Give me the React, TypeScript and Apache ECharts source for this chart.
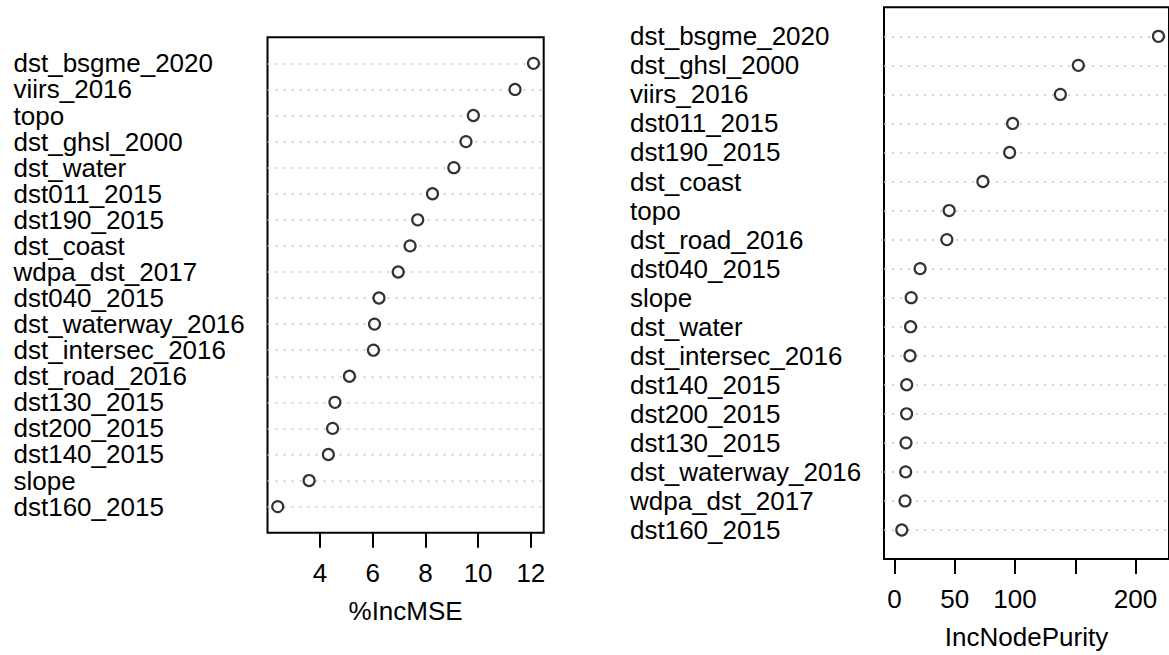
import React, { useEffect, useRef } from "react";
import * as echarts from "echarts";

// Left panel: %IncMSE (top to bottom)
const leftNames = [
  "dst_bsgme_2020", "viirs_2016", "topo", "dst_ghsl_2000", "dst_water",
  "dst011_2015", "dst190_2015", "dst_coast", "wdpa_dst_2017", "dst040_2015",
  "dst_waterway_2016", "dst_intersec_2016", "dst_road_2016", "dst130_2015",
  "dst200_2015", "dst140_2015", "slope", "dst160_2015",
];
const leftValues = [
  12.10, 11.40, 9.82, 9.54, 9.08, 8.27, 7.71, 7.42, 6.97, 6.24,
  6.07, 6.03, 5.12, 4.57, 4.48, 4.32, 3.59, 2.40,
];
const leftTickValues = [4, 6, 8, 10, 12];
const leftLabelValues = [4, 6, 8, 10, 12];
const leftAxisName = "%IncMSE";

// Right panel: IncNodePurity (top to bottom)
const rightNames = [
  "dst_bsgme_2020", "dst_ghsl_2000", "viirs_2016", "dst011_2015", "dst190_2015",
  "dst_coast", "topo", "dst_road_2016", "dst040_2015", "slope", "dst_water",
  "dst_intersec_2016", "dst140_2015", "dst200_2015", "dst130_2015",
  "dst_waterway_2016", "wdpa_dst_2017", "dst160_2015",
];
const rightValues = [
  219.0, 152.5, 137.6, 98.0, 95.5, 73.3, 45.3, 43.4, 21.2, 13.8, 13.3,
  12.8, 10.1, 10.0, 9.5, 9.2, 8.7, 6.0,
];
const rightTickValues = [0, 50, 100, 150, 200];
const rightLabelValues = [0, 50, 100, 200];
const rightAxisName = "IncNodePurity";

const FONT = "'Liberation Sans', Arial, Helvetica, sans-serif";

export default function App() {
  const ref = useRef<HTMLDivElement>(null);

  useEffect(() => {
    document.body.style.margin = "0";
    document.body.style.overflow = "hidden";
    if (!ref.current) return;
    const chart = echarts.init(ref.current, undefined, { renderer: "svg" });

    const n = leftNames.length;
    const lMin = Math.min(...leftValues);
    const lMax = Math.max(...leftValues);
    const lPad = 0.04 * (lMax - lMin);
    const rMax = Math.max(...rightValues);
    const rPad = 0.04 * rMax;

    const yAxisFor = (names: string[], gridIndex: number) => ({
      type: "value",
      gridIndex,
      min: 0,
      max: names.length + 1,
      interval: 1,
      axisLine: { show: false },
      axisTick: { show: false },
      axisLabel: {
        align: "left",
        margin: 254,
        fontSize: 26,
        lineHeight: 21,
        fontFamily: FONT,
        color: "#000",
        padding: [3, 0, 0, 0],
        showMinLabel: false,
        showMaxLabel: false,
        formatter: (v: number) => {
          const i = names.length - v;
          return i >= 0 && i < names.length && v > 0 ? names[i] : "";
        },
      },
      splitLine: {
        show: true,
        showMinLine: false,
        showMaxLine: false,
        lineStyle: { color: "#c4c4c4", type: [2, 6], width: 1.5 },
      },
    });

    const xAxisFor = (
      gridIndex: number,
      min: number,
      max: number,
      ticks: number[],
      labels: number[],
      name: string
    ) => ({
      type: "value",
      gridIndex,
      min,
      max,
      name,
      nameLocation: "middle",
      nameGap: 65,
      nameTextStyle: { fontSize: 26, fontFamily: FONT, color: "#000" },
      axisLine: { show: false },
      splitLine: { show: false },
      axisTick: {
        show: true,
        inside: false,
        length: 15,
        customValues: ticks,
        lineStyle: { color: "#000", width: 2 },
      },
      axisLabel: {
        show: true,
        customValues: labels,
        margin: 27,
        fontSize: 26,
        fontFamily: FONT,
        color: "#000",
      },
    });

    chart.setOption({
      animation: false,
      backgroundColor: "#fff",
      grid: [
        {
          left: 267.5,
          top: 37.3,
          width: 276.2,
          height: 495.4,
          show: true,
          borderColor: "#000",
          borderWidth: 2,
          backgroundColor: "transparent",
        },
        {
          left: 884,
          top: 7.3,
          width: 292,
          height: 556,
          show: true,
          borderColor: "#000",
          borderWidth: 2,
          backgroundColor: "transparent",
        },
      ],
      xAxis: [
        xAxisFor(0, lMin - lPad, lMax + lPad, leftTickValues, leftLabelValues, leftAxisName),
        xAxisFor(1, -rPad, rMax + rPad, rightTickValues, rightLabelValues, rightAxisName),
      ],
      yAxis: [yAxisFor(leftNames, 0), yAxisFor(rightNames, 1)],
      series: [
        {
          type: "scatter",
          xAxisIndex: 0,
          yAxisIndex: 0,
          symbol: "circle",
          symbolSize: 11,
          itemStyle: { color: "#fff", borderColor: "#000", borderWidth: 2.2 },
          data: leftValues.map((v, i) => [v, n - i]),
        },
        {
          type: "scatter",
          xAxisIndex: 1,
          yAxisIndex: 1,
          symbol: "circle",
          symbolSize: 11,
          itemStyle: { color: "#fff", borderColor: "#000", borderWidth: 2.2 },
          data: rightValues.map((v, i) => [v, rightNames.length - i]),
        },
      ],
    });

    return () => chart.dispose();
  }, []);

  return <div ref={ref} style={{ width: 1169, height: 655 }} />;
}
